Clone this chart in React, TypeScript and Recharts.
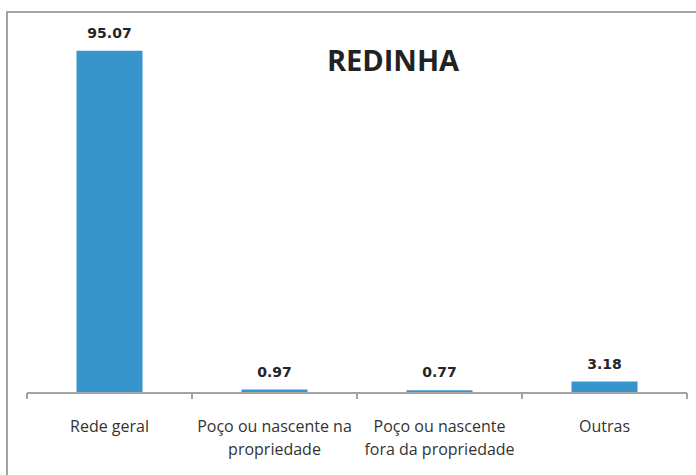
import React from 'react'
import { BarChart, Bar, XAxis, YAxis, LabelList, Customized } from 'recharts'

const categories = [
  'Rede geral',
  'Poço ou nascente na propriedade',
  'Poço ou nascente fora da propriedade',
  'Outras'
]
const values = [95.07, 0.97, 0.77, 3.18]
const tickLines = [
  ['Rede geral'],
  ['Poço ou nascente na', 'propriedade'],
  ['Poço ou nascente', 'fora da propriedade'],
  ['Outras']
]
const title = 'REDINHA'

const data = categories.map((name, i) => ({ name, value: values[i] }))

const AXIS_GRAY = '#a3a3a3'

const CategoryTick = (props: any) => {
  const { x, y, payload, index } = props
  const half = payload?.offset ?? 0
  const lines = tickLines[index] || [payload.value]
  return (
    <g>
      <line x1={x - half} x2={x - half} y1={y} y2={y + 6} stroke={AXIS_GRAY} strokeWidth={2} />
      {index === categories.length - 1 && (
        <line x1={x + half} x2={x + half} y1={y} y2={y + 6} stroke={AXIS_GRAY} strokeWidth={2} />
      )}
      <text textAnchor="middle" fontFamily="'Open Sans', sans-serif" fontSize={16} fill="#333">
        {lines.map((l: string, i: number) => (
          <tspan key={i} x={x} y={y + 39 + i * 23}>{l}</tspan>
        ))}
      </text>
    </g>
  )
}

const Title = () => (
  <text
    x={393}
    y={71}
    textAnchor="middle"
    fontFamily="'Open Sans', sans-serif"
    fontWeight="bold"
    fontSize={29}
    fill="#222"
  >
    {title}
  </text>
)

export default function App() {
  return (
    <div style={{ position: 'absolute', left: 0, top: 0, width: 696, height: 475, overflow: 'hidden', background: '#fff' }}>
      <div
        style={{
          position: 'absolute',
          left: 6,
          top: 11,
          width: 760,
          height: 520,
          border: `2px solid ${AXIS_GRAY}`
        }}
      />
      <div style={{ position: 'absolute', left: 0, top: 0 }}>
        <BarChart
          width={696}
          height={475}
          data={data}
          margin={{ top: 33, right: 9, left: 27, bottom: 0 }}
          barCategoryGap="30%"
        >
          <YAxis hide domain={[0, 100]} width={0} />
          <XAxis
            dataKey="name"
            height={82}
            interval={0}
            axisLine={{ stroke: AXIS_GRAY, strokeWidth: 2 }}
            tickLine={false}
            tickSize={0}
            tickMargin={0}
            tick={<CategoryTick />}
          />
          <Bar dataKey="value" fill="#3794cc" isAnimationActive={false}>
            <LabelList
              dataKey="value"
              position="top"
              offset={13}
              formatter={(v: any) => Number(v).toFixed(2)}
              style={{ fontFamily: "'DejaVu Sans', sans-serif", fontWeight: 'bold', fontSize: 14, fill: '#262626' }}
            />
          </Bar>
          <Customized component={Title} />
        </BarChart>
      </div>
    </div>
  )
}
